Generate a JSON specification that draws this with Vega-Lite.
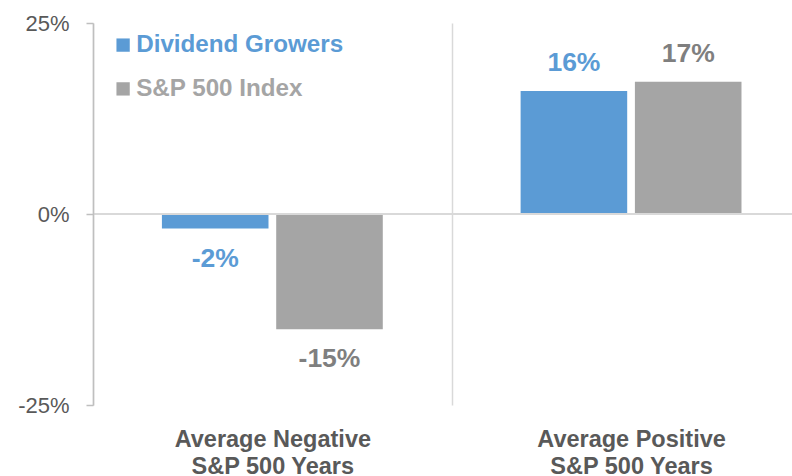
{
  "$schema": "https://vega.github.io/schema/vega-lite/v6.json",
  "width": 699,
  "height": 382,
  "autosize": {"type": "none"},
  "padding": {"left": 93, "top": 23, "right": 0, "bottom": 71},
  "background": "#ffffff",
  "config": {
    "view": {"stroke": null},
    "font": "Liberation Sans"
  },
  "data": {
    "values": [
      {"category": "Average Negative|S&P 500 Years", "series": "Dividend Growers", "value": -0.019},
      {"category": "Average Negative|S&P 500 Years", "series": "S&P 500 Index", "value": -0.151},
      {"category": "Average Positive|S&P 500 Years", "series": "Dividend Growers", "value": 0.161},
      {"category": "Average Positive|S&P 500 Years", "series": "S&P 500 Index", "value": 0.173}
    ]
  },
  "transform": [
    {"calculate": "round(datum.value*100) + '%'", "as": "label"}
  ],
  "encoding": {
    "x": {
      "field": "category",
      "type": "nominal",
      "sort": null,
      "scale": {"range": [0, 717.4], "paddingInner": 0, "paddingOuter": 0},
      "axis": {
        "title": null,
        "domain": false,
        "ticks": false,
        "tickBand": "extent",
        "grid": true,
        "gridColor": "#D9D9D9",
        "gridWidth": 1.5,
        "labelAngle": 0,
        "labelExpr": "split(datum.label, '|')",
        "labelFontSize": 23.5,
        "labelFontWeight": "bold",
        "labelColor": "#595959",
        "labelPadding": 22,
        "labelLineHeight": 27,
        "labelBaseline": "top",
        "labelLimit": 400
      }
    },
    "xOffset": {
      "field": "series",
      "type": "nominal",
      "scale": {"paddingInner": 0.0674, "paddingOuter": 0.603}
    },
    "y": {
      "field": "value",
      "type": "quantitative",
      "scale": {"domain": [-0.25, 0.25], "nice": false, "zero": false},
      "axis": {
        "title": null,
        "values": [-0.25, 0, 0.25],
        "labelExpr": "(datum.value*100) + '%'",
        "grid": false,
        "domainColor": "#BFBFBF",
        "domainWidth": 1.5,
        "tickColor": "#BFBFBF",
        "tickWidth": 1.5,
        "tickSize": 7,
        "labelPadding": 17,
        "labelFontSize": 22,
        "labelColor": "#595959",
        "zindex": 1
      }
    }
  },
  "layer": [
    {
      "mark": {"type": "bar"},
      "encoding": {
        "color": {
          "field": "series",
          "type": "nominal",
          "scale": {"domain": ["Dividend Growers", "S&P 500 Index"], "range": ["#5B9BD5", "#A5A5A5"]},
          "legend": {
            "title": null,
            "orient": "none",
            "legendX": 18,
            "legendY": 10,
            "padding": 0,
            "symbolType": "square",
            "symbolSize": 177,
            "symbolStrokeWidth": 0,
            "labelFontSize": 24.2,
            "labelFontWeight": "bold",
            "labelOffset": 1,
            "labelLimit": 400,
            "rowPadding": 18.8,
            "encode": {
              "labels": {
                "update": {
                  "fill": {"signal": "datum.value == 'Dividend Growers' ? '#5B9BD5' : '#A5A5A5'"}
                }
              }
            }
          }
        }
      }
    },
    {
      "mark": {"type": "rule", "color": "#D9D9D9", "strokeWidth": 2},
      "encoding": {"y": {"datum": 0}, "x": null, "xOffset": null}
    },
    {
      "transform": [{"filter": "datum.value >= 0"}],
      "mark": {"type": "text", "fontSize": 26.5, "fontWeight": "bold", "baseline": "middle", "dy": -28},
      "encoding": {
        "text": {"field": "label"},
        "color": {"condition": {"test": "datum.series == 'Dividend Growers'", "value": "#5B9BD5"}, "value": "#7F7F7F"}
      }
    },
    {
      "transform": [{"filter": "datum.value < 0"}],
      "mark": {"type": "text", "fontSize": 26.5, "fontWeight": "bold", "baseline": "middle", "dy": 30},
      "encoding": {
        "text": {"field": "label"},
        "color": {"condition": {"test": "datum.series == 'Dividend Growers'", "value": "#5B9BD5"}, "value": "#7F7F7F"}
      }
    }
  ]
}
